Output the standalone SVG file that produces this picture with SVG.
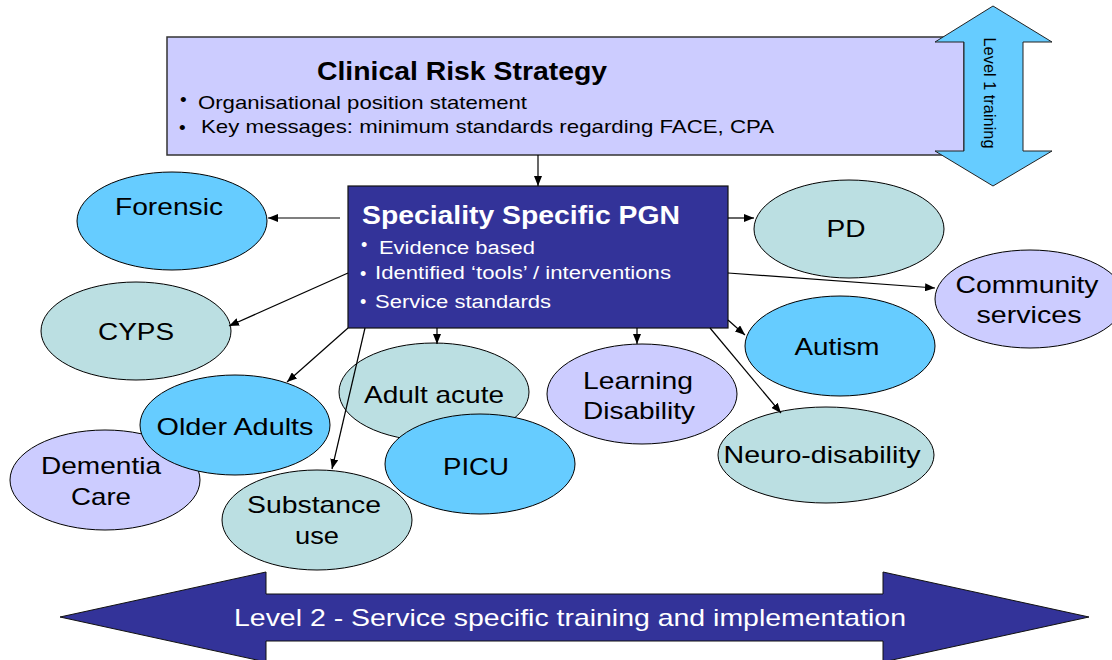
<svg xmlns="http://www.w3.org/2000/svg" width="1112" height="660" viewBox="0 0 1112 660">
<style>
text{font-family:"Liberation Sans",Arial,sans-serif;fill:#000}
.ell{stroke:#000;stroke-width:1}
.blue{fill:#66CCFF}
.teal{fill:#BBDFE2}
.lav{fill:#CCCCFF}
.lbl{font-size:24px;text-anchor:middle}
.conn{stroke:#000;stroke-width:1.2;fill:none;marker-end:url(#ah)}
.w{fill:#fff}
</style>
<defs>
<marker id="ah" markerWidth="10" markerHeight="8" refX="10" refY="4" orient="auto" markerUnits="userSpaceOnUse">
<path d="M0,0 L10,4 L0,8 z" fill="#000"/>
</marker>
</defs>
<rect width="1112" height="660" fill="#fff"/>

<g id="clinical-risk-strategy">
<rect x="167" y="37" width="797" height="118" fill="#CCCCFF" stroke="#333" stroke-width="1.5"/>
<text x="317" y="80" font-size="25" font-weight="bold" textLength="290" lengthAdjust="spacingAndGlyphs">Clinical Risk Strategy</text>
<text x="180" y="106" font-size="19">•</text>
<text x="198" y="109" font-size="19" textLength="329" lengthAdjust="spacingAndGlyphs">Organisational position statement</text>
<text x="179" y="134" font-size="19">•</text>
<text x="201" y="133" font-size="19" textLength="573" lengthAdjust="spacingAndGlyphs">Key messages: minimum standards regarding FACE, CPA</text>
</g>

<g id="level1-training">
<polygon points="993,6 1052,42 1023,42 1023,151 1052,151 993,186 935,151 964,151 964,42 935,42" fill="#66CCFF" stroke="#222" stroke-width="1"/>
<text transform="translate(984,93) rotate(90)" font-size="17" text-anchor="middle" textLength="111" lengthAdjust="spacingAndGlyphs">Level 1 training</text>
</g>

<g id="speciality-specific-pgn">
<rect x="348" y="186" width="380" height="142" fill="#333399" stroke="#111" stroke-width="1.2"/>
<text class="w" x="362" y="224" font-size="25" font-weight="bold" textLength="318" lengthAdjust="spacingAndGlyphs">Speciality Specific PGN</text>
<text class="w" x="361" y="251" font-size="18">•</text>
<text class="w" x="379" y="254" font-size="18" textLength="156" lengthAdjust="spacingAndGlyphs">Evidence based</text>
<text class="w" x="360" y="280" font-size="18">•</text>
<text class="w" x="375" y="279" font-size="18" textLength="296" lengthAdjust="spacingAndGlyphs">Identified ‘tools’ / interventions</text>
<text class="w" x="360" y="308" font-size="18">•</text>
<text class="w" x="375" y="308" font-size="18" textLength="176" lengthAdjust="spacingAndGlyphs">Service standards</text>
</g>

<g id="forensic">
<ellipse class="ell blue" cx="172" cy="221" rx="95" ry="49"/>
<text class="lbl" x="169" y="215" textLength="108" lengthAdjust="spacingAndGlyphs">Forensic</text>
</g>
<g id="cyps">
<ellipse class="ell teal" cx="136" cy="331" rx="95" ry="49"/>
<text class="lbl" x="136" y="340" textLength="76" lengthAdjust="spacingAndGlyphs">CYPS</text>
</g>
<g id="dementia-care">
<ellipse class="ell lav" cx="105" cy="480" rx="95" ry="50"/>
<text class="lbl" x="101" y="474" textLength="120" lengthAdjust="spacingAndGlyphs">Dementia</text>
<text class="lbl" x="101" y="505" textLength="60" lengthAdjust="spacingAndGlyphs">Care</text>
</g>
<g id="older-adults">
<ellipse class="ell blue" cx="235" cy="425" rx="95" ry="50"/>
<text class="lbl" x="235" y="435" textLength="157" lengthAdjust="spacingAndGlyphs">Older Adults</text>
</g>
<g id="substance-use">
<ellipse class="ell teal" cx="317" cy="520" rx="95" ry="50"/>
<text class="lbl" x="314" y="513" textLength="134" lengthAdjust="spacingAndGlyphs">Substance</text>
<text class="lbl" x="317" y="544" textLength="44" lengthAdjust="spacingAndGlyphs">use</text>
</g>
<g id="adult-acute">
<ellipse class="ell teal" cx="434" cy="392" rx="95" ry="49"/>
<text class="lbl" x="434" y="403" textLength="140" lengthAdjust="spacingAndGlyphs">Adult acute</text>
</g>
<g id="picu">
<ellipse class="ell blue" cx="480" cy="464" rx="95" ry="50"/>
<text class="lbl" x="476" y="475" textLength="66" lengthAdjust="spacingAndGlyphs">PICU</text>
</g>
<g id="learning-disability">
<ellipse class="ell lav" cx="642" cy="394" rx="95" ry="50"/>
<text class="lbl" x="638" y="389" textLength="110" lengthAdjust="spacingAndGlyphs">Learning</text>
<text class="lbl" x="639" y="419" textLength="112" lengthAdjust="spacingAndGlyphs">Disability</text>
</g>
<g id="pd">
<ellipse class="ell teal" cx="849" cy="229" rx="95" ry="49"/>
<text class="lbl" x="846" y="237" textLength="39" lengthAdjust="spacingAndGlyphs">PD</text>
</g>
<g id="community-services">
<ellipse class="ell lav" cx="1030" cy="299" rx="95" ry="49"/>
<text class="lbl" x="1027" y="293" textLength="143" lengthAdjust="spacingAndGlyphs">Community</text>
<text class="lbl" x="1029" y="323" textLength="105" lengthAdjust="spacingAndGlyphs">services</text>
</g>
<g id="autism">
<ellipse class="ell blue" cx="840" cy="346" rx="95" ry="50"/>
<text class="lbl" x="837" y="355" textLength="85" lengthAdjust="spacingAndGlyphs">Autism</text>
</g>
<g id="neuro-disability">
<ellipse class="ell teal" cx="826" cy="455" rx="108" ry="48"/>
<text class="lbl" x="822" y="463" textLength="197" lengthAdjust="spacingAndGlyphs">Neuro-disability</text>
</g>

<g id="connectors">
<path class="conn" d="M538,155 L538,186"/>
<path class="conn" d="M340,218 L268,218"/>
<path class="conn" d="M348,273 L229,326"/>
<path class="conn" d="M348,328 L287,382"/>
<path class="conn" d="M365,328 L332,469"/>
<path class="conn" d="M437,328 L437,344"/>
<path class="conn" d="M637,328 L637,344"/>
<path class="conn" d="M710,328 L781,413"/>
<path class="conn" d="M728,320 L745,335"/>
<path class="conn" d="M728,273 L935,288"/>
<path class="conn" d="M728,218 L754,218"/>
</g>

<g id="level2-training">
<polygon points="60,617 266,572 266,594 883,594 883,572 1089,617 883,662 883,641 266,641 266,662" fill="#333399" stroke="#111" stroke-width="1"/>
<text class="w" x="570" y="626" font-size="24" text-anchor="middle" textLength="672" lengthAdjust="spacingAndGlyphs">Level 2 - Service specific training and implementation</text>
</g>
</svg>
